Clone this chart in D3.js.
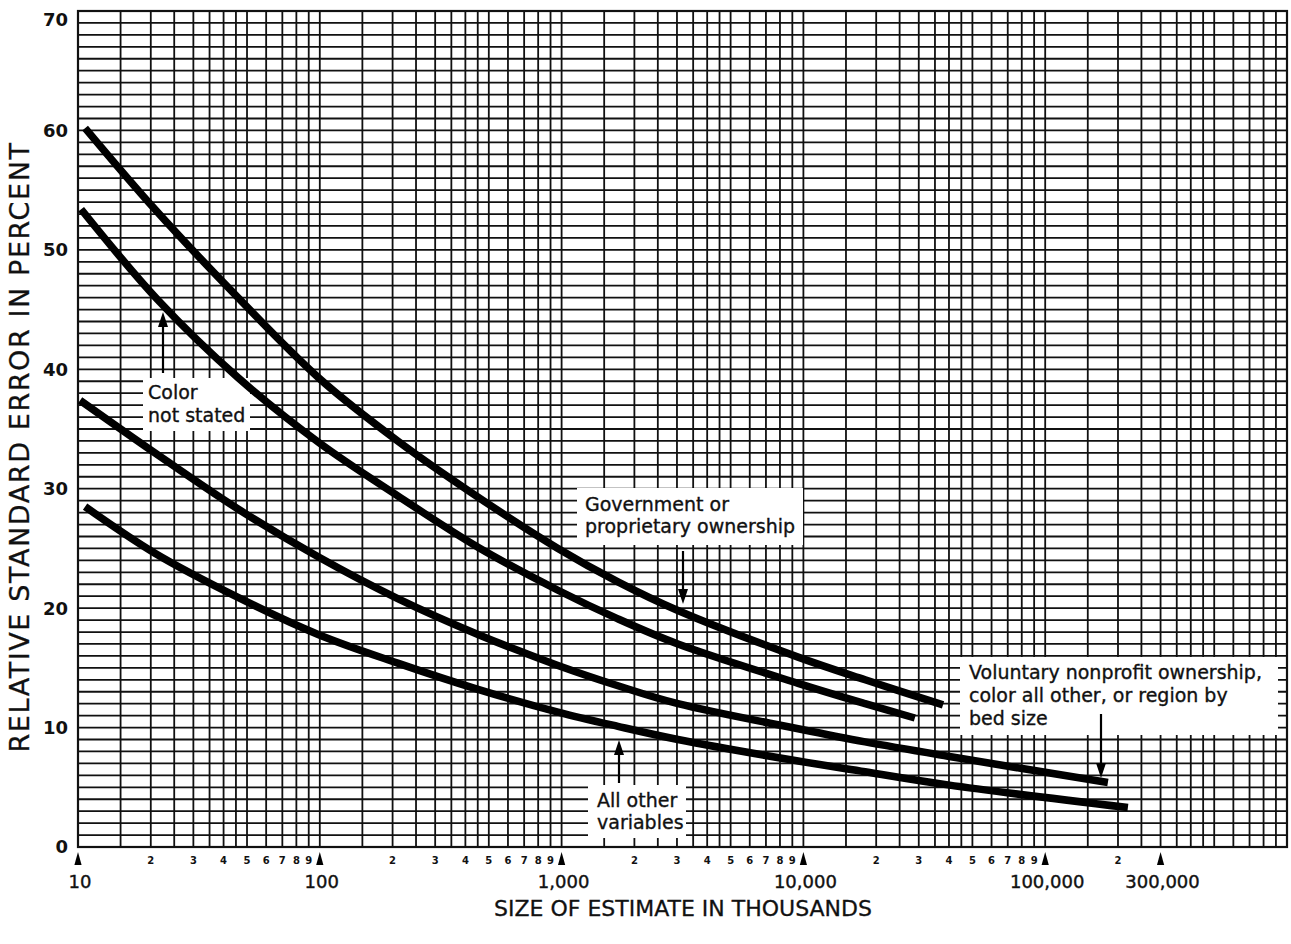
<!DOCTYPE html>
<html>
<head>
<meta charset="utf-8">
<script src="https://cdn.jsdelivr.net/npm/d3@7"></script>
<style>
  html, body { margin: 0; padding: 0; background: #fff; }
  svg { display: block; }
  text { font-family: "DejaVu Sans", "Liberation Sans", sans-serif; fill: #111; }
</style>
</head>
<body>
<svg id="chart" width="1291" height="944"></svg>
<script>
// ---- Data (size of estimate in thousands, relative standard error in percent) ----
const curveA_x = [10.7, 20.8, 45.9, 100, 210, 451, 966, 1710, 3027, 9507, 18000, 37800];
const curveA_y = [60.2, 53.4, 46.0, 39.2, 34.0, 29.3, 25.0, 22.2, 19.8, 15.9, 14.0, 11.9];
const curveB_x = [10.3, 21.4, 45.9, 100, 210, 451, 966, 1710, 3027, 9507, 18000, 28900];
const curveB_y = [53.4, 45.8, 39.3, 33.8, 29.4, 25.1, 21.5, 19.1, 17.0, 13.7, 12.0, 10.8];
const curveC_x = [10.2, 20.8, 45.9, 98.4, 210, 451, 966, 1710, 3027, 9507, 18000, 39600, 181700];
const curveC_y = [37.4, 33.0, 28.3, 24.3, 20.8, 17.8, 15.2, 13.5, 12.0, 9.9, 8.8, 7.6, 5.4];
const curveD_x = [10.7, 20.8, 45.9, 98.4, 210, 451, 966, 1710, 3027, 9507, 18000, 39600, 219800];
const curveD_y = [28.5, 24.6, 20.9, 17.8, 15.4, 13.2, 11.3, 10.1, 9.0, 7.2, 6.3, 5.2, 3.3];

const majorTickValues = [10, 100, 1000, 10000, 100000, 300000];
const majorTickLabels = ["10", "100", "1,000", "10,000", "100,000", "300,000"];
const yTickValues = [0, 10, 20, 30, 40, 50, 60, 70];
const decades = [10, 100, 1000, 10000, 100000];
const gridMultipliers = [1, 1.5, 2, 2.5, 3, 3.5, 4, 4.5, 5, 6, 7, 8, 9];
const minorLabelDigits = [2, 3, 4, 5, 6, 7, 8, 9];
const triangleValues = [10, 100, 1000, 10000, 100000, 300000];

const xTitle = "SIZE OF ESTIMATE IN THOUSANDS";
const yTitle = "RELATIVE STANDARD ERROR IN PERCENT";

// ---- Setup ----
const svg = d3.select("#chart");
svg.append("rect").attr("width", 1291).attr("height", 944).attr("fill", "#fff");

const x = d3.scaleLog().domain([10, 1000000]).range([78, 1287]);
const y = d3.scaleLinear().domain([0, 70]).range([847, 11]);

// ---- Grid ----
const grid = svg.append("g").attr("stroke", "#111").attr("stroke-width", 1.8);
const vValues = [];
decades.forEach(d => gridMultipliers.forEach(m => vValues.push(d * m)));
vValues.push(1000000);
grid.selectAll("line.v").data(vValues).enter().append("line")
  .attr("x1", d => x(d)).attr("x2", d => x(d))
  .attr("y1", y(70)).attr("y2", y(0));
grid.selectAll("line.h").data(d3.range(0, 71, 1)).enter().append("line")
  .attr("x1", x(10)).attr("x2", x(1000000))
  .attr("y1", d => y(d)).attr("y2", d => y(d));
svg.append("rect")
  .attr("x", x(10)).attr("y", y(70))
  .attr("width", x(1000000) - x(10)).attr("height", y(0) - y(70))
  .attr("fill", "none").attr("stroke", "#111").attr("stroke-width", 2.2);

// ---- Annotation boxes (cover grid) ----
const boxes = [
  { x0: 143, y0: 378, x1: 250, y1: 431 },
  { x0: 577, y0: 488, x1: 803, y1: 545 },
  { x0: 960, y0: 657, x1: 1278, y1: 735 },
  { x0: 588, y0: 785, x1: 686, y1: 838 }
];
svg.selectAll("rect.box").data(boxes).enter().append("rect")
  .attr("x", d => d.x0).attr("y", d => d.y0)
  .attr("width", d => d.x1 - d.x0).attr("height", d => d.y1 - d.y0)
  .attr("fill", "#fff");

// ---- Curves ----
const curves = [
  curveA_x.map((v, i) => [v, curveA_y[i]]),
  curveB_x.map((v, i) => [v, curveB_y[i]]),
  curveC_x.map((v, i) => [v, curveC_y[i]]),
  curveD_x.map((v, i) => [v, curveD_y[i]])
];
const line = d3.line().x(d => x(d[0])).y(d => y(d[1])).curve(d3.curveCatmullRom.alpha(0.5));
svg.selectAll("path.curve").data(curves).enter().append("path")
  .attr("d", line).attr("fill", "none").attr("stroke", "#000")
  .attr("stroke-width", 7.5).attr("stroke-linecap", "butt");

// ---- Y axis labels ----
svg.selectAll("text.ylab").data(yTickValues).enter().append("text")
  .attr("x", 68).attr("y", d => Math.max(y(d), 20)).attr("dy", "0.36em")
  .attr("text-anchor", "end").attr("font-size", 18).attr("font-weight", "bold")
  .text(d => d);

// ---- X axis: triangles, minor digits, major labels ----
svg.selectAll("path.tri").data(triangleValues).enter().append("path")
  .attr("d", d => { const cx = x(d); return `M${cx - 3.6},865 L${cx + 3.6},865 L${cx},852 Z`; })
  .attr("fill", "#000");
const minorLabels = [];
decades.forEach(d => {
  const digits = d === 100000 ? [2] : minorLabelDigits;
  digits.forEach(m => minorLabels.push({ v: d * m, t: String(m) }));
});
svg.selectAll("text.minor").data(minorLabels).enter().append("text")
  .attr("x", d => x(d.v)).attr("y", 864)
  .attr("text-anchor", "middle").attr("font-size", 10).attr("font-weight", "bold")
  .text(d => d.t);
svg.selectAll("text.major").data(majorTickValues).enter().append("text")
  .attr("x", d => x(d) + 2).attr("y", 888)
  .attr("text-anchor", "middle").attr("font-size", 18)
  .attr("stroke", "#111").attr("stroke-width", 0.4)
  .text((d, i) => majorTickLabels[i]);

// ---- Axis titles ----
svg.append("text").attr("x", 683).attr("y", 916).attr("text-anchor", "middle")
  .attr("font-size", 22).attr("stroke", "#111").attr("stroke-width", 0.3)
  .text(xTitle);
svg.append("text").attr("transform", "translate(29,447) rotate(-90)")
  .attr("text-anchor", "middle").attr("font-size", 27).attr("letter-spacing", 1.6)
  .attr("stroke", "#111").attr("stroke-width", 0.3)
  .text(yTitle);

// ---- Annotations ----
const notes = [
  { x: 148, ys: [399, 422], lines: ["Color", "not stated"] },
  { x: 585, ys: [511, 533], lines: ["Government or", "proprietary ownership"] },
  { x: 969, ys: [679, 702, 725], lines: ["Voluntary nonprofit ownership,", "color all other, or region by", "bed size"] },
  { x: 597, ys: [807, 829], lines: ["All other", "variables"] }
];
notes.forEach(n => {
  n.lines.forEach((t, i) => {
    svg.append("text").attr("x", n.x).attr("y", n.ys[i]).attr("font-size", 19)
      .attr("stroke", "#111").attr("stroke-width", 0.35).text(t);
  });
});

const arrows = [
  { x: 163, from: 373, to: 312 },
  { x: 683, from: 551, to: 604 },
  { x: 1101, from: 714, to: 778 },
  { x: 619, from: 783, to: 740 }
];
arrows.forEach(a => {
  const dir = a.to > a.from ? 1 : -1;
  svg.append("line").attr("x1", a.x).attr("x2", a.x)
    .attr("y1", a.from).attr("y2", a.to - dir * 10)
    .attr("stroke", "#000").attr("stroke-width", 2.2);
  svg.append("path")
    .attr("d", `M${a.x - 5},${a.to - dir * 15} L${a.x + 5},${a.to - dir * 15} L${a.x},${a.to} Z`)
    .attr("fill", "#000");
});
</script>
</body>
</html>
